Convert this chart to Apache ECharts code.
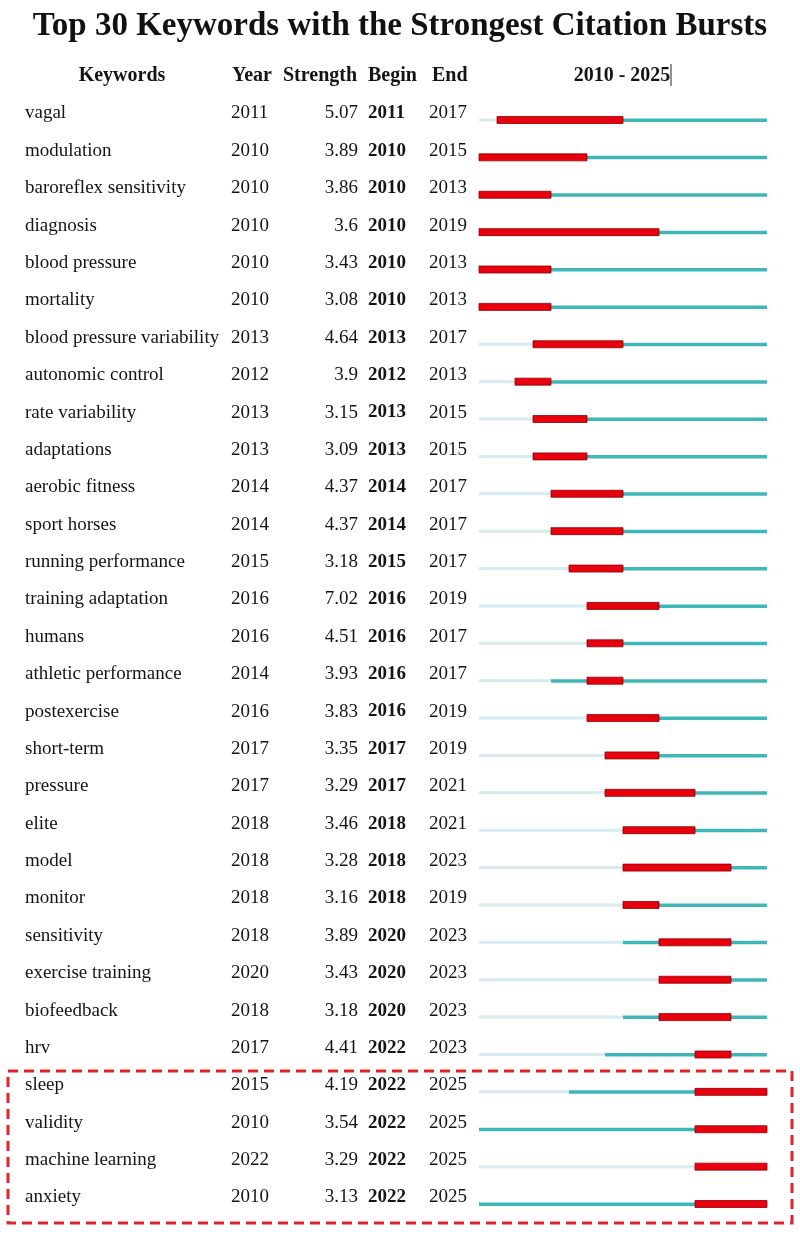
<!DOCTYPE html>
<html>
<head>
<meta charset="utf-8">
<script src="https://cdn.jsdelivr.net/npm/echarts@6/dist/echarts.min.js"></script>
<style>
  html, body { margin: 0; padding: 0; background: #fff; }
  #chart { width: 800px; height: 1234px; }
</style>
</head>
<body>
<div id="chart"></div>
<script>
// table data, one entry per row (top to bottom)
const keywords = [
  'vagal', 'modulation', 'baroreflex sensitivity', 'diagnosis', 'blood pressure',
  'mortality', 'blood pressure variability', 'autonomic control', 'rate variability', 'adaptations',
  'aerobic fitness', 'sport horses', 'running performance', 'training adaptation', 'humans',
  'athletic performance', 'postexercise', 'short-term', 'pressure', 'elite',
  'model', 'monitor', 'sensitivity', 'exercise training', 'biofeedback',
  'hrv', 'sleep', 'validity', 'machine learning', 'anxiety'
]
const years = [
  2011, 2010, 2010, 2010, 2010, 2010, 2013, 2012, 2013, 2013,
  2014, 2014, 2015, 2016, 2016, 2014, 2016, 2017, 2017, 2018,
  2018, 2018, 2018, 2020, 2018, 2017, 2015, 2010, 2022, 2010
]
const strengths = [
  5.07, 3.89, 3.86, 3.6, 3.43, 3.08, 4.64, 3.9, 3.15, 3.09,
  4.37, 4.37, 3.18, 7.02, 4.51, 3.93, 3.83, 3.35, 3.29, 3.46,
  3.28, 3.16, 3.89, 3.43, 3.18, 4.41, 4.19, 3.54, 3.29, 3.13
]
const begins = [
  2011, 2010, 2010, 2010, 2010, 2010, 2013, 2012, 2013, 2013,
  2014, 2014, 2015, 2016, 2016, 2016, 2016, 2017, 2017, 2018,
  2018, 2018, 2020, 2020, 2020, 2022, 2022, 2022, 2022, 2022
]
const ends = [
  2017, 2015, 2013, 2019, 2013, 2013, 2017, 2013, 2015, 2015,
  2017, 2017, 2017, 2019, 2017, 2017, 2019, 2019, 2021, 2021,
  2023, 2019, 2023, 2023, 2023, 2023, 2025, 2025, 2025, 2025
]
const firstYear = 2010
const lastYear = 2025

const serif = '"Liberation Serif", "Times New Roman", serif'
const txt = '#141414'
const bodyFont = '19px ' + serif
const headFont = 'bold 20px ' + serif

const rows = keywords.map((k, i) => [i, years[i], strengths[i], begins[i], ends[i]])

const chart = echarts.init(document.getElementById('chart'))

function renderRow(params, api) {
  const i = api.value(0)
  const year = api.value(1)
  const strength = api.value(2)
  const begin = api.value(3)
  const end = api.value(4)
  const p0 = api.coord([firstYear, i])
  const yc = p0[1]
  const x0 = p0[0]
  const xYear = api.coord([year, i])[0]
  const xB = api.coord([begin, i])[0]
  const xE = api.coord([end + 1, i])[0]
  const xEnd = api.coord([lastYear + 1, i])[0]
  const ty = yc - 6.5
  const children = [
    { type: 'text', style: { text: keywords[i], x: 25, y: ty, fill: txt, font: bodyFont, align: 'left', verticalAlign: 'middle' } },
    { type: 'text', style: { text: String(year), x: 231, y: ty, fill: txt, font: bodyFont, align: 'left', verticalAlign: 'middle' } },
    { type: 'text', style: { text: String(strength), x: 358, y: ty, fill: txt, font: bodyFont, align: 'right', verticalAlign: 'middle' } },
    { type: 'text', style: { text: String(begin), x: 368, y: ty, fill: txt, font: 'bold ' + bodyFont, align: 'left', verticalAlign: 'middle' } },
    { type: 'text', style: { text: String(end), x: 429, y: ty, fill: txt, font: bodyFont, align: 'left', verticalAlign: 'middle' } }
  ]
  if (xYear > x0) {
    children.push({ type: 'rect', shape: { x: x0, y: yc - 1.5, width: xYear - x0, height: 3 }, style: { fill: '#d6ebee' } })
  }
  children.push({ type: 'rect', shape: { x: xYear, y: yc - 1.5, width: xEnd - xYear, height: 3.5 }, style: { fill: '#3fb6b8' } })
  children.push({ type: 'rect', shape: { x: xB, y: yc - 3.5, width: xE - xB, height: 7 }, style: { fill: '#e8000c', stroke: '#8c0008', lineWidth: 0.8 } })
  return { type: 'group', children }
}

chart.setOption({
  backgroundColor: '#fff',
  animation: false,
  title: {
    text: 'Top 30 Keywords with the Strongest Citation Bursts',
    left: 'center',
    top: 5,
    textStyle: { fontFamily: serif, fontWeight: 'bold', fontSize: 33, color: '#111' }
  },
  grid: { left: 479, right: 33, top: 101.3, bottom: 11.3 },
  xAxis: { type: 'value', min: firstYear, max: lastYear + 1, show: false },
  yAxis: { type: 'category', data: keywords, inverse: true, show: false },
  graphic: [
    { type: 'text', style: { text: 'Keywords', x: 122, y: 76, fill: txt, font: headFont, align: 'center', verticalAlign: 'middle' } },
    { type: 'text', style: { text: 'Year', x: 232, y: 76, fill: txt, font: headFont, align: 'left', verticalAlign: 'middle' } },
    { type: 'text', style: { text: 'Strength', x: 283, y: 76, fill: txt, font: headFont, align: 'left', verticalAlign: 'middle' } },
    { type: 'text', style: { text: 'Begin', x: 368, y: 76, fill: txt, font: headFont, align: 'left', verticalAlign: 'middle' } },
    { type: 'text', style: { text: 'End', x: 432, y: 76, fill: txt, font: headFont, align: 'left', verticalAlign: 'middle' } },
    { type: 'text', style: { text: firstYear + ' - ' + lastYear, x: 622, y: 76, fill: txt, font: headFont, align: 'center', verticalAlign: 'middle' } },
    { type: 'line', shape: { x1: 671, y1: 64, x2: 671, y2: 86 }, style: { stroke: '#222', lineWidth: 1 } },
    { type: 'rect', shape: { x: 8, y: 1071, width: 784, height: 152 }, style: { fill: 'none', stroke: '#e4202a', lineWidth: 3, lineDash: [10, 6] } }
  ],
  series: [{
    type: 'custom',
    renderItem: renderRow,
    data: rows,
    encode: { x: 1, y: 0 },
    silent: true
  }]
})
</script>
</body>
</html>
